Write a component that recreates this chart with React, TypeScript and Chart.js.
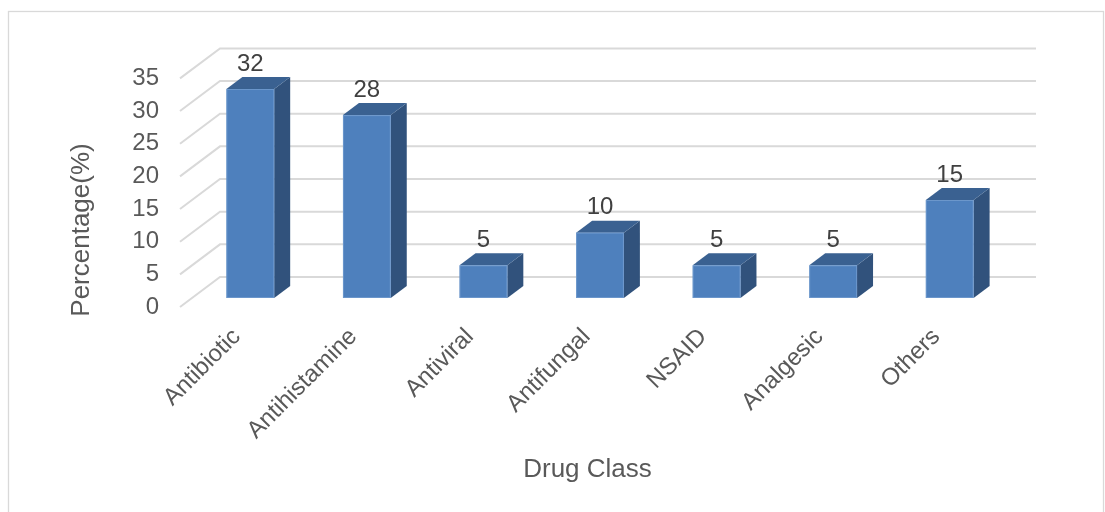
import React, { useEffect, useRef } from "react";
import { Chart, registerables } from "chart.js";

Chart.register(...registerables);

const categories = ["Antibiotic", "Antihistamine", "Antiviral", "Antifungal", "NSAID", "Analgesic", "Others"];
const percentages = [32, 28, 5, 10, 5, 5, 15];
const yTicks = [0, 5, 10, 15, 20, 25, 30, 35];
const yTitle = "Percentage(%)";
const xTitle = "Drug Class";

const FONT = "'Liberation Sans', Arial, sans-serif";
// depth geometry (pixels)
const FRONT_DX = -12, FRONT_DY = 9; // chart front edge relative to bar front plane
const BACK_DX = 28, BACK_DY = -21; // back wall relative to bar front plane
const BAR_DX = 16, BAR_DY = -12; // bar depth

const threeD = {
  id: "threeD",
  beforeDatasetsDraw(chart: any) {
    const ctx = chart.ctx;
    const ca = chart.chartArea;
    const ys = chart.scales.y;
    ctx.save();
    // outer border
    ctx.strokeStyle = "#d9d9d9";
    ctx.lineWidth = 1.3;
    ctx.strokeRect(8.5, 11.5, 1095, 600);
    // gridlines
    ctx.strokeStyle = "#d9d9d9";
    ctx.lineWidth = 2;
    for (const v of yTicks) {
      const y = ys.getPixelForValue(v);
      ctx.beginPath();
      ctx.moveTo(ca.left + FRONT_DX, y + FRONT_DY);
      ctx.lineTo(ca.left + BACK_DX, y + BACK_DY);
      ctx.lineTo(ca.right + BACK_DX, y + BACK_DY);
      ctx.stroke();
    }
    ctx.restore();
  },
  afterDatasetsDraw(chart: any) {
    const ctx = chart.ctx;
    const ca = chart.chartArea;
    const ys = chart.scales.y;
    const meta = chart.getDatasetMeta(0);
    ctx.save();
    meta.data.forEach((el: any, i: number) => {
      const w = el.width;
      const l = el.x - w / 2;
      const r = el.x + w / 2;
      const t = el.y;
      const b = el.base;
      // side
      ctx.fillStyle = "#31527c";
      ctx.beginPath();
      ctx.moveTo(r, t);
      ctx.lineTo(r + BAR_DX, t + BAR_DY);
      ctx.lineTo(r + BAR_DX, b + BAR_DY);
      ctx.lineTo(r, b);
      ctx.closePath();
      ctx.fill();
      // top
      ctx.fillStyle = "#3a6191";
      ctx.beginPath();
      ctx.moveTo(l, t);
      ctx.lineTo(l + BAR_DX, t + BAR_DY);
      ctx.lineTo(r + BAR_DX, t + BAR_DY);
      ctx.lineTo(r, t);
      ctx.closePath();
      ctx.fill();
      // front
      ctx.fillStyle = "#4e80bd";
      ctx.fillRect(l, t, w, b - t);
      ctx.strokeStyle = "rgba(120,160,210,0.7)";
      ctx.lineWidth = 1;
      ctx.strokeRect(l + 0.5, t + 0.5, w - 1, b - t - 1);
      // data label
      ctx.fillStyle = "#404040";
      ctx.font = `24px ${FONT}`;
      ctx.textAlign = "center";
      ctx.textBaseline = "middle";
      ctx.fillText(String(percentages[i]), el.x, t - 25);
      // category label
      ctx.save();
      ctx.fillStyle = "#595959";
      ctx.translate(el.x + FRONT_DX - 1.5, b + FRONT_DY + 26);
      ctx.rotate(-Math.PI / 4);
      ctx.textAlign = "right";
      ctx.textBaseline = "middle";
      ctx.fillText(categories[i], 0, 0);
      ctx.restore();
    });
    // y tick labels
    ctx.fillStyle = "#595959";
    ctx.font = `24px ${FONT}`;
    ctx.textAlign = "right";
    ctx.textBaseline = "middle";
    for (const v of yTicks) {
      ctx.fillText(String(v), 159, ys.getPixelForValue(v) + FRONT_DY);
    }
    // titles
    ctx.font = `26px ${FONT}`;
    ctx.textAlign = "center";
    ctx.textBaseline = "alphabetic";
    ctx.fillText(xTitle, 587.5, 477);
    ctx.save();
    ctx.translate(88.5, 230);
    ctx.rotate(-Math.PI / 2);
    ctx.fillText(yTitle, 0, 0);
    ctx.restore();
    ctx.restore();
  },
};

export default function App() {
  const ref = useRef<HTMLCanvasElement | null>(null);
  useEffect(() => {
    if (!ref.current) return;
    const chart = new Chart(ref.current, {
      type: "bar",
      data: {
        labels: categories,
        datasets: [
          {
            data: percentages,
            backgroundColor: "rgba(0,0,0,0)",
            borderWidth: 0,
            categoryPercentage: 1,
            barPercentage: 0.41,
          },
        ],
      },
      options: {
        animation: false,
        responsive: false,
        events: [],
        layout: { padding: { left: 192, right: 97, top: 69.4, bottom: 214 } },
        plugins: { legend: { display: false }, tooltip: { enabled: false }, title: { display: false } },
        scales: {
          x: { display: false },
          y: { display: false, min: 0, max: 35, ticks: { stepSize: 5 } },
        },
      },
      plugins: [threeD],
    });
    return () => chart.destroy();
  }, []);
  return (
    <div style={{ position: "absolute", left: 0, top: 0, width: 1105, height: 512, background: "#fff" }}>
      <canvas ref={ref} width={1105} height={512} style={{ display: "block", width: 1105, height: 512 }} />
    </div>
  );
}
